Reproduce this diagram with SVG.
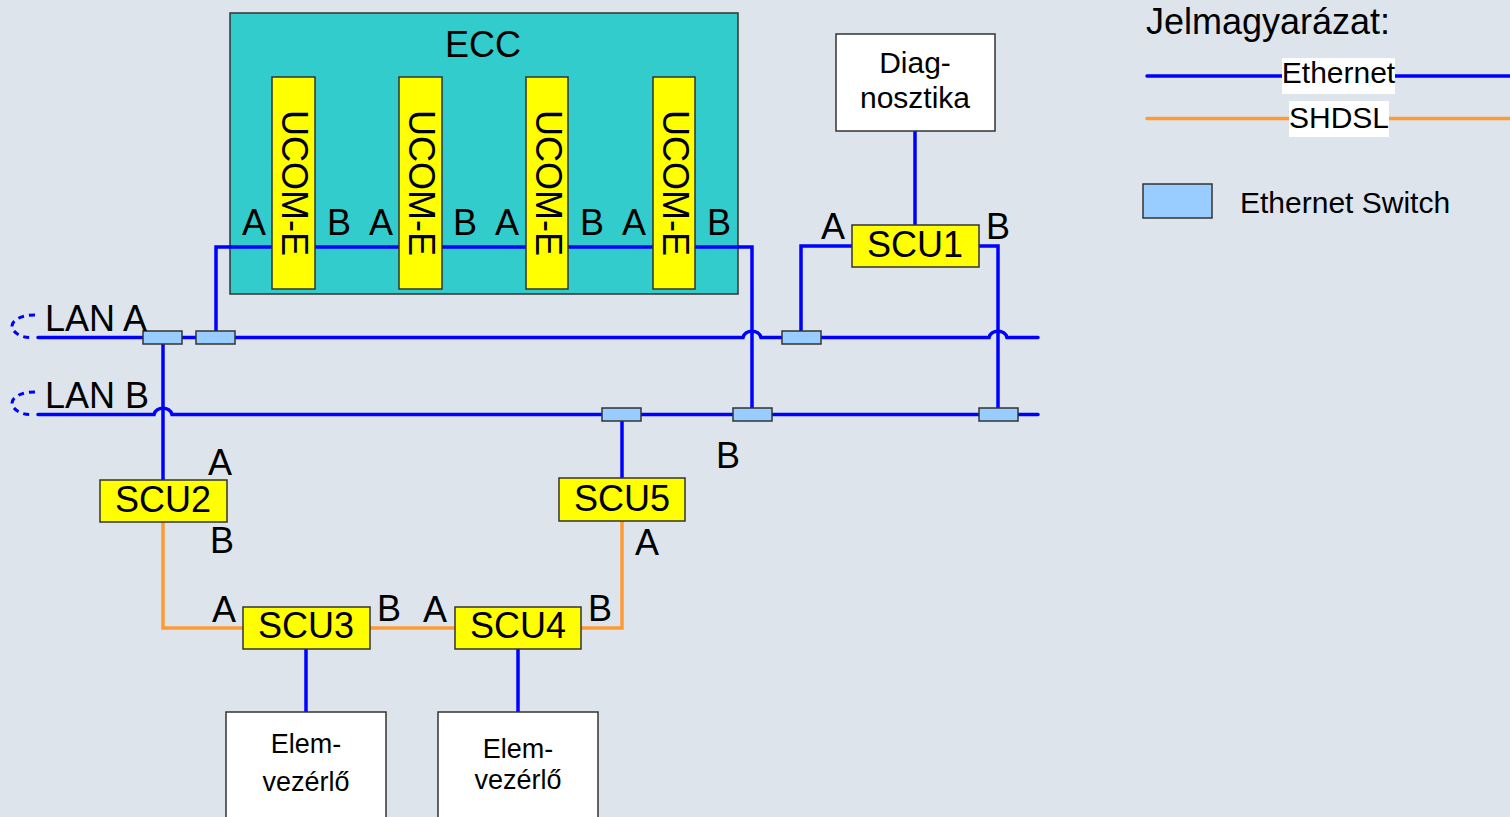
<svg xmlns="http://www.w3.org/2000/svg" width="1510" height="817" viewBox="0 0 1510 817">
<defs>
<style>
text{font-family:"Liberation Sans",Arial,sans-serif;fill:#000}
.t35{font-size:36px}
.t29{font-size:30px}
.t27{font-size:27px}
.mid{text-anchor:middle}
.box{stroke:#333;stroke-width:1.5}
.yel{fill:#FFFF00;stroke:#333;stroke-width:1.5}
.sw{fill:#99CCFF;stroke:#333;stroke-width:1.5}
.wh{fill:#FFFFFF;stroke:#333;stroke-width:1.5}
.eth{fill:none;stroke:#0000FF;stroke-width:3.5;stroke-linecap:round;stroke-linejoin:miter}
.dsl{fill:none;stroke:#FF9933;stroke-width:3.5;stroke-linecap:round}
.dash{fill:none;stroke:#0000FF;stroke-width:3;stroke-dasharray:6 5}
</style>
</defs>
<rect width="1510" height="817" fill="#DDE4EB"/>

<g id="ecc">
<rect x="230" y="13" width="508" height="281" fill="#33CCCC" class="box"/>
<text class="t35 mid" x="483" y="57">ECC</text>
</g>

<g id="connectors">
<polyline class="eth" points="216,337 216,247 752,247 752,414"/>
<path class="eth" d="M38,337.5 L743,337.5 C745,329 759,329 761,337.5 L989,337.5 C991,329 1005,329 1007,337.5 L1038,337.5"/>
<path class="eth" d="M38,414.5 L154,414.5 C156,406 170,406 172,414.5 L1038,414.5"/>
<line class="eth" x1="163" y1="337" x2="163" y2="480"/>
<line class="eth" x1="622" y1="414" x2="622" y2="478"/>
<polyline class="eth" points="852,246 801,246 801,337"/>
<polyline class="eth" points="979,246 998,246 998,414"/>
<line class="eth" x1="915" y1="131" x2="915" y2="225"/>
<line class="eth" x1="306" y1="649" x2="306" y2="712"/>
<line class="eth" x1="518" y1="649" x2="518" y2="712"/>
<polyline class="dsl" points="163,522 163,628 243,628"/>
<line class="dsl" x1="370" y1="628" x2="455" y2="628"/>
<polyline class="dsl" points="581,628 622,628 622,521"/>
<path class="dash" d="M35,315 C15,315 8,325 14,331 C18,336 25,337.5 30,337.5"/>
<path class="dash" d="M35,392 C15,392 8,402 14,408 C18,413 25,414.5 30,414.5"/>
</g>

<g id="ucom1">
<rect x="272" y="77" width="43" height="212" class="yel"/>
<text class="t35 mid" transform="translate(282,183) rotate(90)">UCOM-E</text>
</g>
<g id="ucom2">
<rect x="399" y="77" width="43" height="212" class="yel"/>
<text class="t35 mid" transform="translate(409,183) rotate(90)">UCOM-E</text>
</g>
<g id="ucom3">
<rect x="526" y="77" width="42" height="212" class="yel"/>
<text class="t35 mid" transform="translate(536,183) rotate(90)">UCOM-E</text>
</g>
<g id="ucom4">
<rect x="653" y="77" width="42" height="212" class="yel"/>
<text class="t35 mid" transform="translate(663,183) rotate(90)">UCOM-E</text>
</g>

<g id="ecc-ports">
<text class="t35 mid" x="254" y="235">A</text>
<text class="t35 mid" x="339" y="235">B</text>
<text class="t35 mid" x="381" y="235">A</text>
<text class="t35 mid" x="465" y="235">B</text>
<text class="t35 mid" x="507" y="235">A</text>
<text class="t35 mid" x="592" y="235">B</text>
<text class="t35 mid" x="634" y="235">A</text>
<text class="t35 mid" x="719" y="235">B</text>
</g>

<g id="switches">
<rect x="143" y="331" width="39" height="13" class="sw"/>
<rect x="196" y="331" width="39" height="13" class="sw"/>
<rect x="782" y="331" width="39" height="13" class="sw"/>
<rect x="602" y="408" width="39" height="13" class="sw"/>
<rect x="733" y="408" width="39" height="13" class="sw"/>
<rect x="979" y="408" width="39" height="13" class="sw"/>
</g>

<g id="lan-labels">
<text class="t35" x="45" y="331">LAN A</text>
<text class="t35" x="45" y="408">LAN B</text>
</g>

<g id="scu1">
<rect x="852" y="225" width="127" height="42" class="yel"/>
<text class="t35 mid" x="915" y="257">SCU1</text>
<text class="t35 mid" x="833" y="239">A</text>
<text class="t35 mid" x="998" y="239">B</text>
</g>

<g id="diag">
<rect x="836" y="34" width="159" height="97" class="wh"/>
<text class="t29 mid" x="915" y="73">Diag-</text>
<text class="t29 mid" x="915" y="108">nosztika</text>
</g>

<g id="scu2">
<rect x="100" y="480" width="127" height="42" class="yel"/>
<text class="t35 mid" x="163" y="512">SCU2</text>
<text class="t35 mid" x="220" y="475">A</text>
<text class="t35 mid" x="222" y="553">B</text>
</g>

<g id="scu3">
<rect x="243" y="607" width="127" height="42" class="yel"/>
<text class="t35 mid" x="306" y="638">SCU3</text>
<text class="t35 mid" x="224" y="622">A</text>
<text class="t35 mid" x="389" y="621">B</text>
</g>

<g id="scu4">
<rect x="455" y="607" width="126" height="42" class="yel"/>
<text class="t35 mid" x="518" y="638">SCU4</text>
<text class="t35 mid" x="435" y="622">A</text>
<text class="t35 mid" x="600" y="621">B</text>
</g>

<g id="scu5">
<rect x="559" y="478" width="126" height="43" class="yel"/>
<text class="t35 mid" x="622" y="511">SCU5</text>
<text class="t35 mid" x="647" y="555">A</text>
<text class="t35 mid" x="728" y="468">B</text>
</g>

<g id="elem1">
<rect x="226" y="712" width="160" height="120" class="wh"/>
<text class="t27 mid" x="306" y="753">Elem-</text>
<text class="t27 mid" x="306" y="791">vezérlő</text>
</g>
<g id="elem2">
<rect x="438" y="712" width="160" height="120" class="wh"/>
<text class="t27 mid" x="518" y="758">Elem-</text>
<text class="t27 mid" x="518" y="789">vezérlő</text>
</g>

<g id="legend">
<text class="t35" x="1146" y="34">Jelmagyarázat:</text>
<line class="eth" x1="1147" y1="76" x2="1512" y2="76"/>
<rect x="1282" y="58" width="113" height="36" fill="#FFFFFF"/>
<text class="t29 mid" x="1338.5" y="83">Ethernet</text>
<line class="dsl" x1="1147" y1="118.5" x2="1512" y2="118.5"/>
<rect x="1289" y="101" width="100" height="36" fill="#FFFFFF"/>
<text class="t29 mid" x="1339" y="128">SHDSL</text>
<rect x="1143" y="184" width="69" height="34" class="sw"/>
<text class="t29" x="1240" y="213">Ethernet Switch</text>
</g>
</svg>
